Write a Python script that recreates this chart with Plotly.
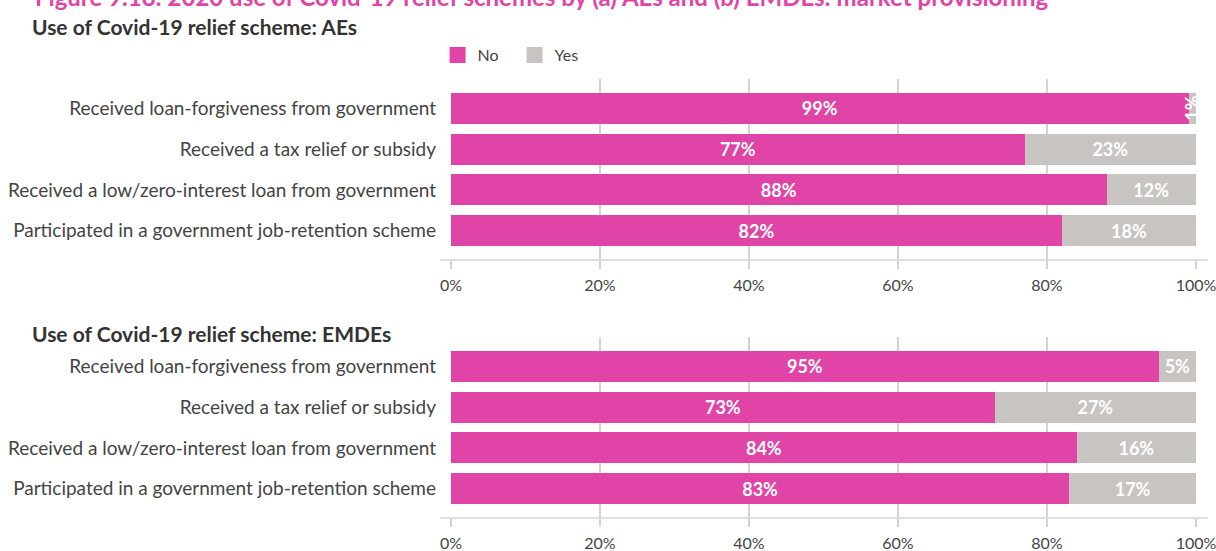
import plotly.graph_objects as go

categories = [
    "Received loan-forgiveness from government",
    "Received a tax relief or subsidy",
    "Received a low/zero-interest loan from government",
    "Participated in a government job-retention scheme",
]
ae_no = [99, 77, 88, 82]
ae_yes = [1, 23, 12, 18]
emde_no = [95, 73, 84, 83]
emde_yes = [5, 27, 16, 17]
tick_vals = [0, 20, 40, 60, 80, 100]
tick_text = ["0%", "20%", "40%", "60%", "80%", "100%"]

PINK = "#E044A7"
GREY = "#C8C4C1"
FONT = "Lato"
TXT = "#444444"

fig = go.Figure()

def label(vals):
    return [f"{v}%" if v >= 3 else "" for v in vals]

for no, yes, xa, ya in [(ae_no, ae_yes, "x", "y"), (emde_no, emde_yes, "x2", "y2")]:
    fig.add_trace(go.Bar(
        y=categories, x=no, orientation="h", name="No", marker=dict(color=PINK, line=dict(width=0)),
        text=label(no), textposition="inside", insidetextanchor="middle", textangle=0,
        textfont=dict(family=FONT, size=18, color="white", weight=700),
        width=0.76, showlegend=False, xaxis=xa, yaxis=ya, hoverinfo="x+y",
    ))
    fig.add_trace(go.Bar(
        y=categories, x=yes, orientation="h", name="Yes", marker=dict(color=GREY, line=dict(width=0)),
        text=label(yes), textposition="inside", insidetextanchor="middle", textangle=0,
        textfont=dict(family=FONT, size=18, color="white", weight=700),
        width=0.76, showlegend=False, xaxis=xa, yaxis=ya, hoverinfo="x+y",
    ))
    for c, n, v in zip(categories, no, yes):
        if v < 3:
            fig.add_annotation(x=n + v / 2, y=c, xref=xa, yref=ya, text=f"{v}%", textangle=-90,
                               showarrow=False, font=dict(family=FONT, size=18, color="white", weight=700))

# legend entries
for nm, col in [("No", PINK), ("Yes", GREY)]:
    fig.add_trace(go.Scatter(x=[None], y=[None], mode="markers", name=nm,
                             marker=dict(symbol="square", size=18, color=col), xaxis="x", yaxis="y"))

top_dom = [0.5877, 1.0]
bot_dom = [0.0, 0.4123]
xcommon = dict(range=[0, 100], tickvals=tick_vals, ticktext=tick_text, showgrid=True,
               gridcolor="#D3D3D3", gridwidth=1.5, ticks="outside", ticklen=8, tickcolor="#D3D3D3",
               tickwidth=1.5, tickfont=dict(family=FONT, size=16, color=TXT), zeroline=False,
               showline=False, ticklabelstandoff=3, ticklabeloverflow="allow",
               fixedrange=True, automargin=False)
ycommon = dict(range=[3.72, -0.72], type="category", categoryorder="array", categoryarray=categories,
               showgrid=False, zeroline=False, ticks="", ticklabelstandoff=14, automargin=False,
               tickfont=dict(family=FONT, size=19, color=TXT), fixedrange=True)

fig.update_layout(
    barmode="stack",
    width=1216, height=551,
    margin=dict(l=451, r=20, t=79, b=33),
    paper_bgcolor="white", plot_bgcolor="white",
    font=dict(family=FONT, color=TXT),
    xaxis=dict(domain=[0, 1], anchor="y", **xcommon),
    yaxis=dict(domain=top_dom, anchor="x", **ycommon),
    xaxis2=dict(domain=[0, 1], anchor="y2", **xcommon),
    yaxis2=dict(domain=bot_dom, anchor="x2", **ycommon),
    legend=dict(orientation="h", x=-0.018, xanchor="left", y=1 + (79 - 55) / 439, yanchor="middle",
                traceorder="normal",
                font=dict(family=FONT, size=16, color=TXT), entrywidth=32, entrywidthmode="pixels",
                bgcolor="rgba(0,0,0,0)", itemclick=False, itemdoubleclick=False),
    showlegend=True,
)

# horizontal axis lines extending beyond plot area
for yd in ["y domain", "y2 domain"]:
    fig.add_shape(type="line", xref="paper", yref=yd, x0=-0.0148, x1=1.016, y0=0, y1=0,
                  line=dict(color="#D3D3D3", width=1.5), layer="below")

# titles
fig.add_annotation(xref="paper", yref="paper", x=-0.561, xanchor="left", y=1 + (79 + 3) / 439, yanchor="middle",
                   text="<b>Figure 9.18: 2020 use of Covid-19 relief schemes by (a) AEs and (b) EMDEs: market provisioning</b>",
                   showarrow=False, font=dict(family=FONT, size=24, color=PINK))
fig.add_annotation(xref="paper", yref="paper", x=-0.565, xanchor="left", y=1 + (79 - 27) / 439, yanchor="middle",
                   text="<b>Use of Covid-19 relief scheme: AEs</b>",
                   showarrow=False, font=dict(family=FONT, size=21, color="#333333"))
fig.add_annotation(xref="paper", yref="paper", x=-0.565, xanchor="left", y=(518 - 333) / 439, yanchor="middle",
                   text="<b>Use of Covid-19 relief scheme: EMDEs</b>",
                   showarrow=False, font=dict(family=FONT, size=21, color="#333333"))

fig.write_html("out.html", config={"displayModeBar": False},
               post_script="document.body.style.margin='0';document.body.style.overflow='hidden';")
